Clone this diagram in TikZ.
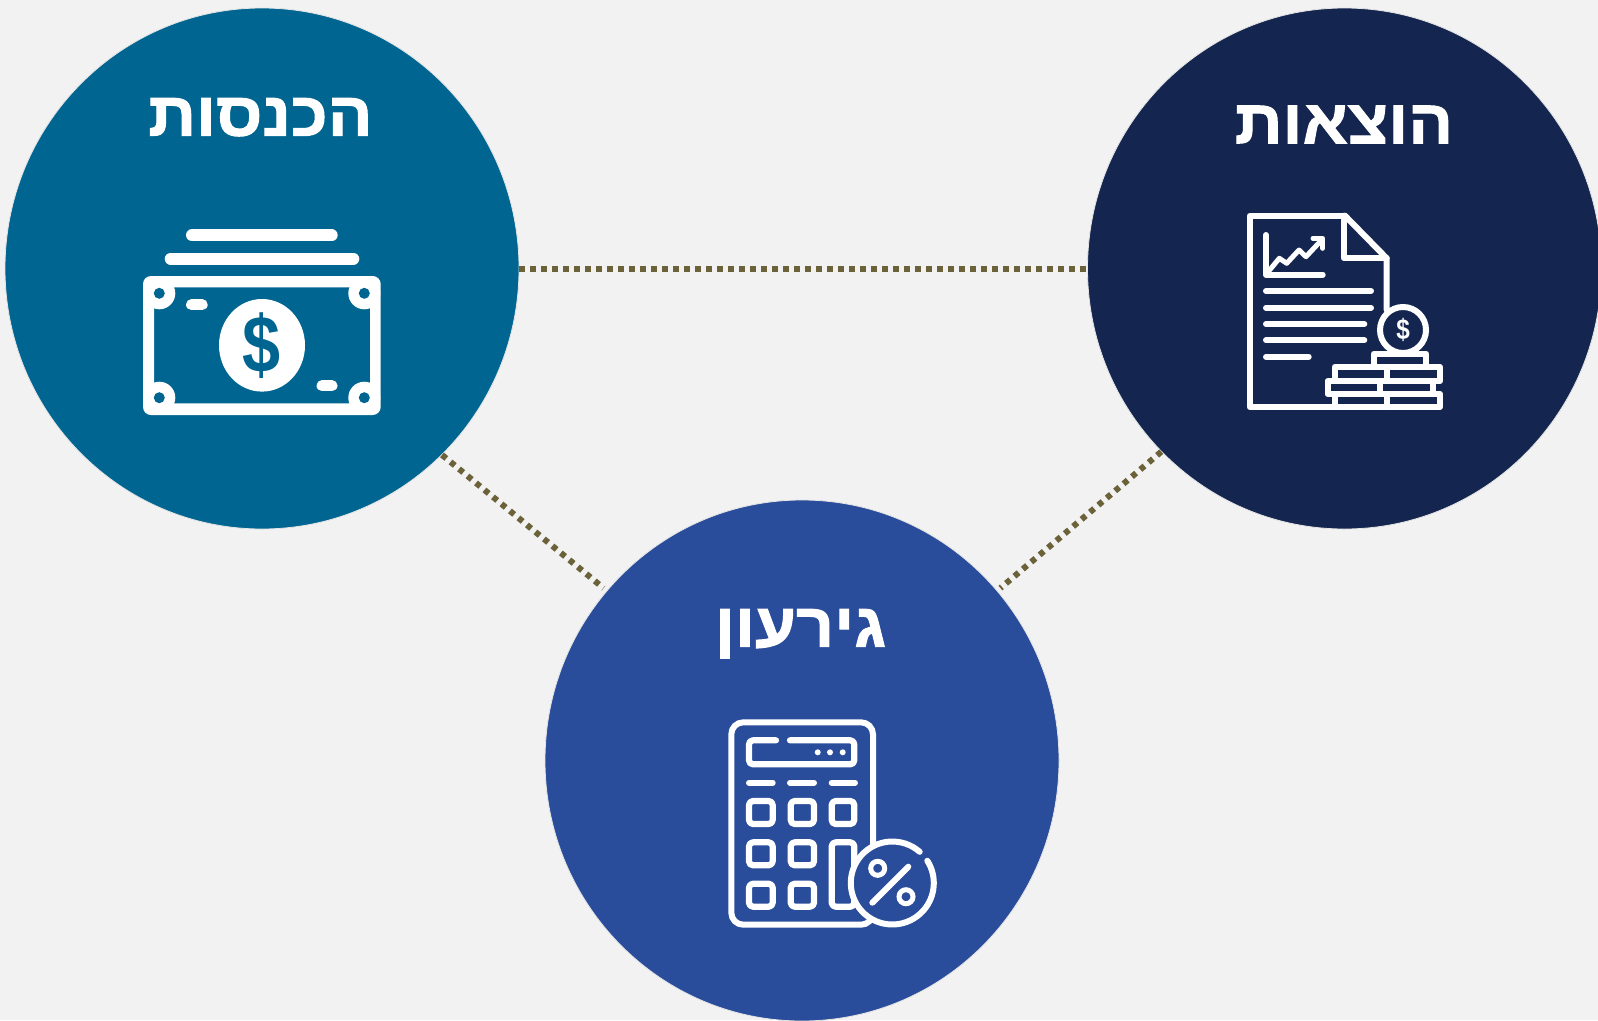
\documentclass[tikz,border=0pt]{standalone}
\usepackage{fontspec}
\usetikzlibrary{shapes.geometric}
\setmainfont{Liberation Sans}
\newfontfamily\hebfont[Script=Hebrew,FakeBold=1.6,FakeStretch=1.07]{Liberation Sans Bold}
\TeXXeTstate=1
\definecolor{pagebg}{HTML}{F2F2F2}
\definecolor{incc}{HTML}{006590}
\definecolor{expc}{HTML}{14264F}
\definecolor{girc}{HTML}{2A4D9B}
\definecolor{dotc}{HTML}{6B6239}
\tikzset{
  bigcircle/.style={ellipse,draw=black!10,line width=0.8pt,minimum width=514pt,minimum height=521pt,inner sep=0pt},
  linkline/.style={draw=dotc,line width=6pt,dash pattern=on 5.5pt off 5.5pt},
  title/.style={text=white,anchor=base,inner sep=0pt,font=\hebfont\fontsize{62}{66}\selectfont},
  iconline/.style={draw=white,line width=6pt,line cap=round,line join=round},
  fatline/.style={draw=white,line width=11pt,line cap=round,line join=round},
  thinline/.style={draw=white,line width=6.2pt,line cap=round,line join=round},
}
\begin{document}
\begin{tikzpicture}[x=1pt,y=-1pt]
\useasboundingbox (0,0) rectangle (1598,1020);
\clip (0,0) rectangle (1598,1020);
\fill[pagebg] (0,0) rectangle (1598,1020);
\node[bigcircle,fill=incc] (inc) at (262,268.5) {};
\node[bigcircle,fill=expc] (exp) at (1344.5,268.5) {};
\node[bigcircle,fill=girc] (gir) at (802,760.5) {};
\draw[linkline] (inc.east) -- (exp.west);
\draw[linkline,shorten >=4pt] (inc.-46) -- (gir.139);
\draw[linkline,shorten >=4pt] (exp.225) -- (gir.41);
\node[title] (tinc) at (260.5,135.7) {\beginR הכנסות\endR};
\node[title] (texp) at (1344,143.3) {\beginR הוצאות\endR};
\node[title] (tgir) at (800.5,646.7) {\beginR גירעון\endR};
% money icon
\draw[line width=12pt,line cap=round,draw=white] (192,235.3) -- (331.7,235.3);
\draw[line width=12pt,line cap=round,draw=white] (170.7,258.7) -- (353.3,258.7);
\fill[white,even odd rule,rounded corners=8pt] (143,276) rectangle (380.7,415) [sharp corners] (154,287.3) rectangle (370,403.3);
\foreach \cx in {159.3,364.3}\foreach \cy in {293.3,397.7}{
  \fill[white] (\cx,\cy) circle[radius=16];
  \fill[incc] (\cx,\cy) circle[radius=5.5];
}
\draw[fatline] (191.5,304.8) -- (202.2,304.8);
\draw[fatline] (322,385.8) -- (332,385.8);
\fill[white] (262,345.3) ellipse[x radius=43,y radius=46.3];
\node[text=incc,inner sep=0pt,font=\bfseries\fontsize{76}{76}\selectfont,xscale=0.9,yscale=1.06] (dol1) at (262,345.3) {\$};
% expenses icon
\draw[iconline] (1345,215.7) -- (1249.7,215.7) -- (1249.7,407) -- (1334.7,407);
\draw[iconline] (1345,215.7) -- (1386.7,258.3) -- (1386.7,310);
\draw[iconline] (1344,215.7) -- (1344,258.3) -- (1386.7,258.3);
\draw[iconline] (1266,235) -- (1266,274.7) -- (1322.7,274.7);
\draw[draw=white,line width=5pt,line cap=round,line join=round] (1268,272) -- (1279.3,258.3) -- (1286.7,263.3) -- (1299,250) -- (1306,256.7) -- (1320,241.7);
\draw[draw=white,line width=5pt,line cap=round,line join=round] (1313,238.3) -- (1322.7,238.3) -- (1322.7,248.3);
\draw[iconline] (1266,291) -- (1371,291);
\draw[iconline] (1266,307.7) -- (1371,307.7);
\draw[iconline] (1266,324) -- (1364.3,324);
\draw[iconline] (1266,340.3) -- (1364.3,340.3);
\draw[iconline] (1266,356.7) -- (1308.7,356.7);
\fill[expc] (1403,330) circle[radius=23];
\draw[draw=white,line width=6pt] (1403,330) circle[radius=23];
\node[text=white,inner sep=0pt,font=\bfseries\fontsize{27}{27}\selectfont,xscale=0.9,yscale=1.06] (dol2) at (1403,330) {\$};
\foreach \xa/\xb/\xc/\ya/\yb in {1334.7/1386.7/1440/367/381,1327.5/1380.3/1433/381/394,1334.7/1386.7/1440/394/407}{
  \fill[expc] (\xa,\ya) rectangle (\xc,\yb);
  \draw[iconline] (\xa,\ya) rectangle (\xc,\yb);
  \draw[iconline] (\xb,\ya) -- (\xb,\yb);
}
\draw[iconline] (1373.7,367) -- (1373.7,353.7) -- (1426.3,353.7) -- (1426.3,367);
% calculator icon
\draw[iconline,rounded corners=12pt] (873,845) -- (873,722.3) -- (731.3,722.3) -- (731.3,924.7) -- (873,924.7) -- (873,900);
\draw[thinline,rounded corners=4pt] (776,740.3) -- (749,740.3) -- (749,764.3) -- (854.3,764.3) -- (854.3,740.3) -- (790,740.3);
\fill[white] (817.7,752.3) circle[radius=3];
\fill[white] (830,752.3) circle[radius=3];
\fill[white] (842.7,752.3) circle[radius=3];
\foreach \xa/\xb in {749/772.7,790/814,831.7/855}{\draw[iconline] (\xa,782.7) -- (\xb,782.7);}
\foreach \xa/\xb/\ya/\yb in {749/772.7/801/824,790.7/814/801/824,831.7/854.3/801/824,749/772.7/842.3/865.3,790.7/814/842.3/865.3,749/772.7/883.7/906.7,790.7/814/883.7/906.7,831.7/854.3/842.3/906.7}{
  \draw[thinline,rounded corners=4pt] (\xa,\ya) rectangle (\xb,\yb);
}
\fill[girc] (892.3,883) circle[radius=41.5];
\draw[iconline] ([shift={(-48.7:41.5)}]892.3,883) arc[start angle=-48.7,end angle=-392.5,radius=41.5];
\draw[iconline] (872.3,902.7) -- (908.3,866.7);
\draw[draw=white,line width=5pt] (877.7,868.3) circle[radius=7];
\draw[draw=white,line width=5pt] (906,896.7) circle[radius=7];
\end{tikzpicture}
\end{document}
